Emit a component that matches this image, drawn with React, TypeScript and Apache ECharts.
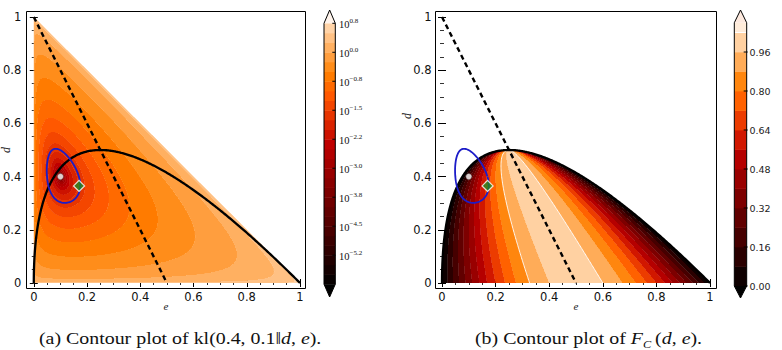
import React, { useEffect, useRef } from "react";
import * as echarts from "echarts";

// ---------------- data ----------------
const EMPIRICAL = [0.4, 0.1, 0.5]; // (d, e, 1-d-e) of kl(0.4, 0.1 || d, e)
const OBSERVED = { e: 0.1, d: 0.4 }; // white dot
const OPTIMUM = { e: 0.17, d: 0.365 }; // green diamond
const CONF_RADIUS = 0.022; // kl level of the blue region
const DASHED_LINE = [
  [0, 1],
  [0.5, 0],
]; // [e, d]
const AXIS_TICKS = [0, 0.2, 0.4, 0.6, 0.8, 1];
const KL_LOG_LEVELS = { min: -6, max: 0.75, step: 0.25 };
const KL_TICK_EXP = [0.75, 0, -0.75, -1.5, -2.25, -3, -3.75, -4.5, -5.25];
const KL_TICK_LABELS = ["0.8", "0.0", "\u22120.8", "\u22121.5", "\u22122.2", "\u22123.0", "\u22123.8", "\u22124.5", "\u22125.2"];
const F_LEVELS = [0, 0.08, 0.16, 0.24, 0.32, 0.4, 0.48, 0.56, 0.64, 0.72, 0.8, 0.88, 0.96, 1.04, 1.08];
const F_TICKS = [0, 0.16, 0.32, 0.48, 0.64, 0.8, 0.96];
const F_TICK_LABELS = ["0.00", "0.16", "0.32", "0.48", "0.64", "0.80", "0.96"];
const F_WHITE_LINES = [
  { level: 0.88, side: -1 },
  { level: 0.96, side: 1 },
];

// ---------------- layout ----------------
const G1 = { left: 32, top: 17, width: 268, height: 266 };
const G2 = { left: 442, top: 17, width: 268, height: 266 };
const OFF_X = 5;
const OFF_Y1 = 5;
const OFF_Y2 = 6;

// gist_heat colormap
const clamp = (v: number) => Math.max(0, Math.min(1, v));
const heat = (t: number) => {
  t = clamp(t);
  const r = Math.min(1, 1.5 * t);
  const g = clamp(2 * t - 1);
  const b = clamp(4 * t - 3);
  return `rgb(${Math.round(r * 255)},${Math.round(g * 255)},${Math.round(b * 255)})`;
};

// functions being contoured
const kl = (d: number, e: number) => {
  const f = 1 - d - e;
  if (d <= 0 || e <= 0 || f <= 0) return Infinity;
  const [pd, pe, pf] = EMPIRICAL;
  return pd * Math.log(pd / d) + pe * Math.log(pe / e) + pf * Math.log(pf / f);
};
const hweD = (e: number) => 2 * (Math.sqrt(e) - e);
const fC = (d: number, e: number) => {
  const p = e + d / 2;
  const den = 1 - 2 * d;
  if (den <= 1e-9) return 0;
  return (4 * p * (1 - p) - 2 * d) / den;
};

// colour tables
const nKL = Math.round((KL_LOG_LEVELS.max - KL_LOG_LEVELS.min) / KL_LOG_LEVELS.step);
const KL_NORM_TOP = 1.25;
const KL_COLORS: string[] = [heat(0)];
for (let k = 0; k < nKL; k++) {
  const mid = KL_LOG_LEVELS.min + (k + 0.5) * KL_LOG_LEVELS.step;
  KL_COLORS.push(heat((mid - KL_LOG_LEVELS.min) / (KL_NORM_TOP - KL_LOG_LEVELS.min)));
}
KL_COLORS.push(heat(1));
const F_NORM = 1.1;
const F_COLORS: string[] = [];
for (let k = 0; k < F_LEVELS.length - 1; k++) {
  F_COLORS.push(heat((F_LEVELS[k] + F_LEVELS[k + 1]) / 2 / F_NORM));
}

const bandKL = (d: number, e: number) => {
  const v = Math.log10(kl(d, e));
  if (!isFinite(v) || v >= KL_LOG_LEVELS.max) return nKL + 1;
  if (v < KL_LOG_LEVELS.min) return 0;
  return 1 + Math.min(nKL - 1, Math.floor((v - KL_LOG_LEVELS.min) / KL_LOG_LEVELS.step));
};
const bandF = (d: number, e: number) => {
  const v = fC(d, e);
  let idx = 0;
  for (let k = 0; k < 13; k++) if (v >= F_LEVELS[k]) idx = k;
  return idx;
};

function buildRuns(inDomain: (d: number, e: number) => boolean, band: (d: number, e: number) => number, rows: number, cols: number) {
  const out: number[][] = [];
  for (let j = 0; j < rows; j++) {
    const d0 = j / rows;
    const d1 = (j + 1) / rows;
    const dc = (j + 0.5) / rows;
    let cur = -2;
    let start = 0;
    for (let i = 0; i <= cols; i++) {
      let b = -2;
      if (i < cols) {
        const ec = (i + 0.5) / cols;
        if (inDomain(dc, ec)) b = band(dc, ec);
      }
      if (b !== cur) {
        if (cur !== -2) out.push([start / cols, i / cols, d0, d1, cur]);
        cur = b;
        start = i;
      }
    }
  }
  return out;
}

const klRuns = buildRuns((d, e) => d + e < 1, bandKL, G1.height, G1.width * 2);
const fRuns = buildRuns((d, e) => d <= hweD(e), bandF, G2.height, G2.width * 2);

const hweCurve: number[][] = [];
for (let k = 0; k <= 400; k++) {
  const s = k / 400;
  hweCurve.push([s * s, 2 * (s - s * s)]);
}

// white contour lines of F (fan from the HWE peak)
const whiteLines = F_WHITE_LINES.map(({ level, side }) => {
  const u = (1 + side * Math.sqrt(1 - level)) / 2;
  const pts: number[][] = [];
  for (let k = 0; k <= 100; k++) {
    const d = 0.5 * (k / 100);
    const r = Math.sqrt(Math.max(0, 1 - 2 * d));
    const eL = ((1 - r) / 2) ** 2;
    const eR = ((1 + r) / 2) ** 2;
    pts.push([eL + u * (eR - eL), d]);
  }
  return pts;
});

const confRegion: number[][] = [];
for (let k = 0; k <= 240; k++) {
  const th = (2 * Math.PI * k) / 240;
  let lo = 0;
  let hi = 0.4;
  for (let it = 0; it < 50; it++) {
    const mid = (lo + hi) / 2;
    const v = kl(OBSERVED.d + mid * Math.sin(th), OBSERVED.e + mid * Math.cos(th));
    if (v < CONF_RADIUS) lo = mid;
    else hi = mid;
  }
  confRegion.push([OBSERVED.e + lo * Math.cos(th), OBSERVED.d + lo * Math.sin(th)]);
}

const fmt = (v: number) => (v === 0 ? "0" : v === 1 ? "1" : v.toFixed(1));

function axis(gridIndex: number, position: string, offset: number, labels: boolean, margin: number) {
  return {
    type: "value",
    gridIndex,
    position,
    offset,
    min: 0,
    max: 1,
    interval: 0.2,
    axisLine: { show: false },
    splitLine: { show: false },
    axisTick: { show: true, inside: true, length: 4, lineStyle: { color: "#000", width: 1 } },
    minorTick: { show: true, splitNumber: 4, length: 2, lineStyle: { color: "#000", width: 0.8 } },
    axisLabel: {
      show: labels,
      formatter: fmt,
      fontFamily: "DejaVu Sans",
      fontSize: 11.5,
      color: "#111",
      margin,
      customValues: AXIS_TICKS,
    },
  };
}

function overlaySeries(xi: number, yi: number, withWhite: boolean) {
  const white = withWhite
    ? whiteLines.map((pts) => ({
        type: "line",
        xAxisIndex: xi,
        yAxisIndex: yi,
        data: pts,
        showSymbol: false,
        symbol: "none",
        lineStyle: { color: "rgba(255,255,255,0.9)", width: 1 },
        z: 2,
        silent: true,
      }))
    : [];
  return [
    ...white,
    {
      type: "line",
      xAxisIndex: xi,
      yAxisIndex: yi,
      data: hweCurve,
      showSymbol: false,
      symbol: "none",
      lineStyle: { color: "#000", width: 2.3 },
      z: 3,
      silent: true,
    },
    {
      type: "line",
      xAxisIndex: xi,
      yAxisIndex: yi,
      data: DASHED_LINE,
      showSymbol: false,
      symbol: "none",
      lineStyle: { color: "#000", width: 2.4, type: [5, 3.5] },
      z: 3,
      silent: true,
    },
    {
      type: "line",
      xAxisIndex: xi,
      yAxisIndex: yi,
      data: confRegion,
      showSymbol: false,
      symbol: "none",
      lineStyle: { color: "#1c1cc8", width: 1.8 },
      z: 4,
      silent: true,
    },
    {
      type: "scatter",
      xAxisIndex: xi,
      yAxisIndex: yi,
      data: [[OBSERVED.e, OBSERVED.d]],
      symbol: "circle",
      symbolSize: 6,
      itemStyle: { color: "#fff", borderColor: "#444", borderWidth: 0.5 },
      z: 5,
      silent: true,
    },
    {
      type: "scatter",
      xAxisIndex: xi,
      yAxisIndex: yi,
      data: [[OPTIMUM.e, OPTIMUM.d]],
      symbol: "diamond",
      symbolSize: 11,
      itemStyle: { color: "#1f8a1f", borderColor: "#fff", borderWidth: 1.3 },
      z: 5,
      silent: true,
    },
  ];
}

function fillSeries(xi: number, yi: number, runs: number[][], colors: string[]) {
  return {
    type: "custom",
    xAxisIndex: xi,
    yAxisIndex: yi,
    data: runs,
    dimensions: ["e0", "e1", "d0", "d1", "band"],
    encode: { x: [0, 1], y: [2, 3] },
    silent: true,
    z: 1,
    renderItem: (params: any, api: any) => {
      const a = api.coord([api.value(0), api.value(3)]);
      const b = api.coord([api.value(1), api.value(2)]);
      return {
        type: "rect",
        shape: { x: a[0], y: a[1], width: b[0] - a[0] + 0.3, height: b[1] - a[1] },
        style: { fill: colors[api.value(4)] },
      };
    },
  };
}

// colorbar helpers
function colorbarGraphics() {
  const els: any[] = [];
  // ---- left (kl, log) ----
  const L = { x: 324, w: 11.3, top: 23.3, px: 38.65 };
  const yK = (v: number) => L.top + (KL_LOG_LEVELS.max - v) * L.px;
  const yBottomK = yK(KL_LOG_LEVELS.min);
  for (let k = 0; k < nKL; k++) {
    const v0 = KL_LOG_LEVELS.min + k * KL_LOG_LEVELS.step;
    const v1 = v0 + KL_LOG_LEVELS.step;
    els.push({ type: "rect", shape: { x: L.x, y: yK(v1), width: L.w, height: yK(v0) - yK(v1) + 0.4 }, style: { fill: KL_COLORS[k + 1] } });
  }
  els.push({ type: "polygon", shape: { points: [[L.x, L.top], [L.x + L.w / 2, 10], [L.x + L.w, L.top]] }, style: { fill: "#fff4ec" } });
  els.push({ type: "polygon", shape: { points: [[L.x, yBottomK], [L.x + L.w / 2, 297], [L.x + L.w, yBottomK]] }, style: { fill: KL_COLORS[0] } });
  els.push({
    type: "polyline",
    shape: { points: [[L.x, L.top], [L.x + L.w / 2, 10], [L.x + L.w, L.top], [L.x + L.w, yBottomK], [L.x + L.w / 2, 297], [L.x, yBottomK], [L.x, L.top]] },
    style: { stroke: "#000", lineWidth: 1, fill: null },
  });
  KL_TICK_EXP.forEach((v, i) => {
    const y = yK(v);
    els.push({ type: "line", shape: { x1: L.x + L.w - 3, y1: y, x2: L.x + L.w, y2: y }, style: { stroke: "#000", lineWidth: 1 } });
    els.push({
      type: "text",
      x: 339,
      y: y + 1,
      style: {
        text: `{b|10}{s|${KL_TICK_LABELS[i]}}`,
        textAlign: "left",
        textVerticalAlign: "middle",
        fill: "#111",
        rich: {
          b: { fontFamily: "Liberation Serif", fontSize: 10.5, lineHeight: 13, fill: "#111" },
          s: { fontFamily: "Liberation Serif", fontSize: 7, verticalAlign: "top", fill: "#111" },
        },
      },
    });
  });

  // ---- right (F, linear) ----
  const R = { x: 734.3, w: 12.4, zero: 286, px: 243.75 };
  const yF = (v: number) => R.zero - v * R.px;
  const topF = yF(F_LEVELS[F_LEVELS.length - 1]);
  for (let k = 0; k < F_LEVELS.length - 1; k++) {
    els.push({
      type: "rect",
      shape: { x: R.x, y: yF(F_LEVELS[k + 1]), width: R.w, height: yF(F_LEVELS[k]) - yF(F_LEVELS[k + 1]) + 0.4 },
      style: { fill: F_COLORS[k] },
    });
  }
  els.push({ type: "line", shape: { x1: R.x, y1: yF(1.04), x2: R.x + R.w, y2: yF(1.04) }, style: { stroke: "#fff", lineWidth: 1 } });
  els.push({ type: "polygon", shape: { points: [[R.x, topF], [R.x + R.w / 2, 10], [R.x + R.w, topF]] }, style: { fill: "#fde9de" } });
  els.push({ type: "polygon", shape: { points: [[R.x, R.zero], [R.x + R.w / 2, 298], [R.x + R.w, R.zero]] }, style: { fill: heat(0) } });
  els.push({
    type: "polyline",
    shape: { points: [[R.x, topF], [R.x + R.w / 2, 10], [R.x + R.w, topF], [R.x + R.w, R.zero], [R.x + R.w / 2, 298], [R.x, R.zero], [R.x, topF]] },
    style: { stroke: "#000", lineWidth: 1, fill: null },
  });
  F_TICKS.forEach((v, i) => {
    const y = yF(v);
    els.push({ type: "line", shape: { x1: R.x + R.w - 3, y1: y, x2: R.x + R.w + 1, y2: y }, style: { stroke: "#000", lineWidth: 1 } });
    els.push({
      type: "text",
      x: 749.5,
      y,
      style: { text: F_TICK_LABELS[i], textAlign: "left", textVerticalAlign: "middle", fontFamily: "DejaVu Sans", fontSize: 9.5, fill: "#222" },
    });
  });
  return els;
}

function frameGraphics() {
  return [
    {
      type: "rect",
      shape: { x: G1.left - OFF_Y1 - 0.5, y: G1.top - OFF_X - 0.5, width: G1.width + 2 * OFF_Y1 + 1, height: G1.height + 2 * OFF_X + 1 },
      style: { fill: null, stroke: "#000", lineWidth: 1 },
      z: 10,
    },
    {
      type: "rect",
      shape: { x: G2.left - OFF_Y2 - 0.5, y: G2.top - OFF_X - 0.5, width: G2.width + 2 * OFF_Y2 + 1, height: G2.height + 2 * OFF_X + 1 },
      style: { fill: null, stroke: "#000", lineWidth: 1 },
      z: 10,
    },
  ];
}

function textGraphics() {
  const it = { fontFamily: "Liberation Serif", fontStyle: "italic", fontSize: 11, fill: "#222" };
  return [
    { type: "text", x: G1.left + G1.width / 2, y: 306, style: { ...it, text: "e", textAlign: "center", textVerticalAlign: "middle" } },
    { type: "text", x: G2.left + G2.width / 2, y: 306, style: { ...it, text: "e", textAlign: "center", textVerticalAlign: "middle" } },
    { type: "text", x: 407, y: 116, rotation: Math.PI / 2, style: { ...it, fontSize: 12, text: "d", textAlign: "center", textVerticalAlign: "middle" } },
    { type: "text", x: 6, y: 150, rotation: Math.PI / 2, style: { ...it, fontSize: 12, text: "d", textAlign: "center", textVerticalAlign: "middle" } },
    {
      type: "text",
      x: 39,
      y: 338,
      scaleX: 1.17,
      style: {
        text: "{n|(a) Contour plot of kl(0.4, 0.1\u2016}{i|d}{n|, }{i|e}{n|).}",
        textAlign: "left",
        textVerticalAlign: "middle",
        rich: {
          n: { fontFamily: "Liberation Serif", fontSize: 17, fill: "#111" },
          i: { fontFamily: "Liberation Serif", fontStyle: "italic", fontSize: 17, fill: "#111" },
        },
      },
    },
    {
      type: "text",
      x: 475,
      y: 338,
      scaleX: 1.17,
      style: {
        text: "{n|(b) Contour plot of }{i|F}{s|C}{n|\u2009(}{i|d}{n|, }{i|e}{n|).}",
        textAlign: "left",
        textVerticalAlign: "middle",
        rich: {
          n: { fontFamily: "Liberation Serif", fontSize: 17, lineHeight: 23, fill: "#111" },
          i: { fontFamily: "Liberation Serif", fontStyle: "italic", fontSize: 17, lineHeight: 23, fill: "#111" },
          s: { fontFamily: "Liberation Serif", fontStyle: "italic", fontSize: 10.5, verticalAlign: "bottom", fill: "#111" },
        },
      },
    },
  ];
}

export default function App() {
  const ref = useRef<HTMLDivElement>(null);
  useEffect(() => {
    if (!ref.current) return;
    const chart = echarts.init(ref.current, null, { renderer: "svg" });
    const option: any = {
      animation: false,
      backgroundColor: "#fff",
      grid: [
        { left: G1.left, top: G1.top, width: G1.width, height: G1.height },
        { left: G2.left, top: G2.top, width: G2.width, height: G2.height },
      ],
      xAxis: [
        axis(0, "bottom", OFF_X, true, 3),
        axis(0, "top", OFF_X, false, 3),
        axis(1, "bottom", OFF_X, true, 3),
        axis(1, "top", OFF_X, false, 3),
      ],
      yAxis: [
        axis(0, "left", OFF_Y1, true, 7.5),
        axis(0, "right", OFF_Y1, false, 4),
        axis(1, "left", OFF_Y2, true, 4.5),
        axis(1, "right", OFF_Y2, false, 4),
      ],
      series: [
        fillSeries(0, 0, klRuns, KL_COLORS),
        ...overlaySeries(0, 0, false),
        fillSeries(2, 2, fRuns, F_COLORS),
        ...overlaySeries(2, 2, true),
      ],
      graphic: { elements: [...frameGraphics(), ...colorbarGraphics(), ...textGraphics()] },
    };
    chart.setOption(option);
    return () => chart.dispose();
  }, []);
  return <div ref={ref} style={{ position: "absolute", left: 0, top: 0, width: 782, height: 350 }} />;
}
